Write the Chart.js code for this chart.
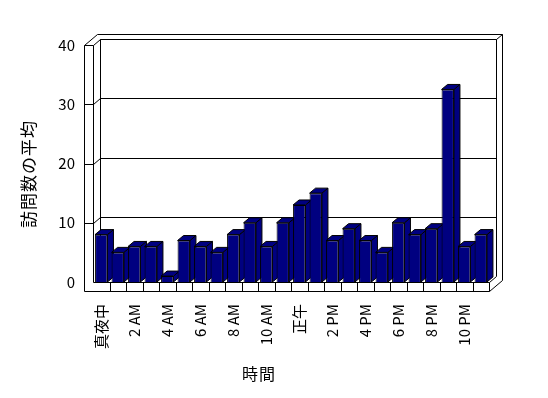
<!DOCTYPE html>
<html>
<head>
<meta charset="utf-8">
<script src="https://cdn.jsdelivr.net/npm/chart.js@4/dist/chart.umd.min.js"></script>
<style>
  html, body { margin: 0; padding: 0; background: #fff; }
  canvas { display: block; }
</style>
</head>
<body>
<canvas id="myChart" width="548" height="398"></canvas>
<script>
'use strict';

//data

//one bar per hour of the day
const hours = [
  '真夜中', '1 AM', '2 AM', '3 AM', '4 AM', '5 AM', '6 AM', '7 AM', '8 AM', '9 AM', '10 AM', '11 AM',
  '正午', '1 PM', '2 PM', '3 PM', '4 PM', '5 PM', '6 PM', '7 PM', '8 PM', '9 PM', '10 PM', '11 PM'
];
//average visits in each hour
const visits = [8, 5, 6, 6, 1, 7, 6, 5, 8, 10, 6, 10, 13, 15, 7, 9, 7, 5, 10, 8, 9, 32.5, 6, 8];
//value axis
const valueMin = 0;
const valueMax = 40;
const valueStep = 10;
const xTitle = '時間';
const yTitle = '訪問数の平均';

//looks

const barColor = '#000080';
const fontFamily = "'Noto Sans CJK JP', sans-serif";
//back wall sits this far behind the front plane
const wallDepth = {x: 7, y: -6};
//thickness of the walls
const slab = {x: 6, y: -5};
//how deep each bar is
const barDepth = {x: 6, y: -5};
//floor front face height, left wall front face width
const floorHeight = 9;
const sideWidth = 9;

//helpers

function line(ctx, x1, y1, x2, y2) {
  ctx.beginPath();
  ctx.moveTo(x1, y1);
  ctx.lineTo(x2, y2);
  ctx.stroke();
}

function shape(ctx, points, fill) {
  ctx.beginPath();
  ctx.moveTo(points[0][0], points[0][1]);
  for(let i = 1; i < points.length; i++) {
    ctx.lineTo(points[i][0], points[i][1]);
  }
  ctx.closePath();
  ctx.fillStyle = fill;
  ctx.fill();
  ctx.stroke();
}

//plugins

//walls, floor and gridlines behind the bars, plus the top and side of each bar
const box3d = {
  id: 'box3d',
  beforeInit(chart) {
    //the old excel font is spaced out a bit
    chart.ctx.letterSpacing = '2px';
  },
  beforeDatasetsDraw(chart) {
    const {ctx, chartArea: a, scales: {y}} = chart;
    const L = Math.round(a.left) + 0.5;
    const R = Math.round(a.right) + 0.5;
    const T = Math.round(a.top) + 0.5;
    const B = Math.round(a.bottom) + 0.5;
    const dx = wallDepth.x;
    const dy = wallDepth.y;
    const outerX = L - sideWidth;
    const floorY = B + floorHeight;
    ctx.save();
    ctx.strokeStyle = '#000';
    ctx.lineWidth = 1;

    //back wall
    line(ctx, L + dx, T + dy, R + dx, T + dy);
    line(ctx, R + dx, T + dy, R + dx, B + dy);
    line(ctx, L + dx, T + dy, L + dx, B + dy);
    //back wall outer edge
    line(ctx, outerX + dx + slab.x, T + dy + slab.y, R + dx + slab.x, T + dy + slab.y);
    line(ctx, R + dx + slab.x, T + dy + slab.y, R + dx + slab.x, floorY + dy + slab.y);
    line(ctx, R + dx, T + dy, R + dx + slab.x, T + dy + slab.y);

    //gridlines, left wall diagonals and tick marks
    for(let v = valueMin + valueStep; v <= valueMax; v += valueStep) {
      const py = Math.round(y.getPixelForValue(v)) + 0.5;
      line(ctx, L + dx, py + dy, R + dx, py + dy);
      line(ctx, L, py, L + dx, py + dy);
      line(ctx, outerX, py, L, py);
    }

    //left wall
    line(ctx, outerX, T, outerX, floorY);
    line(ctx, L, T, L, B);
    line(ctx, outerX, T, outerX + dx + slab.x, T + dy + slab.y);

    //floor
    line(ctx, L, B, R, B);
    line(ctx, outerX, floorY, R, floorY);
    line(ctx, R, B, R, floorY);
    line(ctx, R, B, R + dx, B + dy);
    line(ctx, R, floorY, R + dx + slab.x, floorY + dy + slab.y);
    const band = (a.right - a.left) / hours.length;
    for(let i = 1; i < hours.length; i++) {
      const px = Math.round(a.left + band * i) + 0.5;
      line(ctx, px, B, px, floorY);
    }

    //bar tops and sides, fronts come from chart.js
    const bars = chart.getDatasetMeta(0).data;
    for(let bar of bars) {
      const x1 = bar.x - bar.width / 2;
      const x2 = bar.x + bar.width / 2;
      shape(ctx, [
        [x2, bar.y], [x2 + barDepth.x, bar.y + barDepth.y],
        [x2 + barDepth.x, bar.base + barDepth.y], [x2, bar.base]
      ], barColor);
      shape(ctx, [
        [x1, bar.y], [x1 + barDepth.x, bar.y + barDepth.y],
        [x2 + barDepth.x, bar.y + barDepth.y], [x2, bar.y]
      ], barColor);
    }
    ctx.restore();
  },
  afterDraw(chart) {
    const {ctx} = chart;
    ctx.save();
    ctx.letterSpacing = '1px';
    ctx.fillStyle = '#000';
    ctx.textAlign = 'center';
    ctx.textBaseline = 'middle';
    ctx.font = `17px ${fontFamily}`;
    ctx.translate(29, 174);
    ctx.rotate(-Math.PI / 2);
    ctx.fillText(yTitle, 0, 0);
    ctx.restore();
    ctx.save();
    ctx.letterSpacing = '1px';
    ctx.fillStyle = '#000';
    ctx.textAlign = 'center';
    ctx.textBaseline = 'middle';
    ctx.font = `16px ${fontFamily}`;
    ctx.fillText(xTitle, 259, 374);
    ctx.restore();
  }
};

//main

const data = {
  labels: hours,
  datasets: [{
    label: yTitle,
    data: visits,
    backgroundColor: barColor,
    borderColor: '#000',
    borderWidth: 1,
    barPercentage: 0.75,
    categoryPercentage: 1
  }]
};

const config = {
  type: 'bar',
  data: data,
  plugins: [box3d],
  options: {
    responsive: false,
    devicePixelRatio: 1,
    animation: false,
    layout: {padding: {top: 45, right: 59, left: 0, bottom: 0}},
    plugins: {
      legend: {display: false},
      tooltip: {enabled: false}
    },
    scales: {
      x: {
        grid: {display: false, drawTicks: false},
        border: {display: false},
        ticks: {
          autoSkip: false,
          minRotation: 90,
          maxRotation: 90,
          padding: 22,
          color: '#000',
          font: {family: fontFamily, size: 15},
          callback: (value, i) => i % 2 ? '' : hours[i]
        },
        afterFit: scale => { scale.height = 116; }
      },
      y: {
        min: valueMin,
        max: valueMax,
        grid: {display: false, drawTicks: false},
        border: {display: false},
        ticks: {
          stepSize: valueStep,
          padding: 18,
          color: '#000',
          font: {family: fontFamily, size: 15}
        },
        afterFit: scale => { scale.width = 93; }
      }
    }
  }
};

new Chart(document.getElementById('myChart'), config);
</script>
</body>
</html>
